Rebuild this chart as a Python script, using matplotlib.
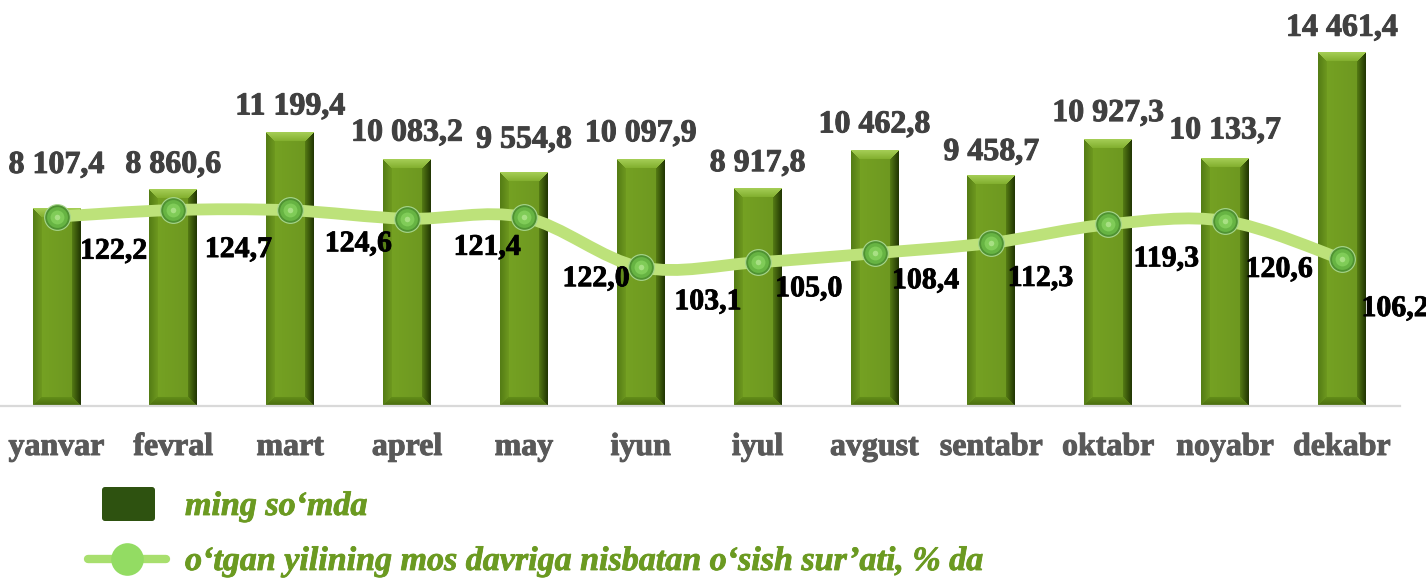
import numpy as np
import matplotlib
matplotlib.use("Agg")
import matplotlib.pyplot as plt
import matplotlib.patheffects as pe
from matplotlib.path import Path
from matplotlib.patches import PathPatch, FancyBboxPatch
from matplotlib.lines import Line2D
from matplotlib.colors import to_rgb

# ---------------- data ----------------
months = ["yanvar", "fevral", "mart", "aprel", "may", "iyun",
          "iyul", "avgust", "sentabr", "oktabr", "noyabr", "dekabr"]
amount = [8107.4, 8860.6, 11199.4, 10083.2, 9554.8, 10097.9,
          8917.8, 10462.8, 9458.7, 10927.3, 10133.7, 14461.4]
growth = [122.2, 124.7, 124.6, 121.4, 122.0, 103.1,
          105.0, 108.4, 112.3, 119.3, 120.6, 106.2]
legend_bar = "ming so‘mda"
legend_line = "o‘tgan yilining mos davriga nisbatan o‘sish sur’ati, % da"


def fmt(v):
    return f"{v:,.1f}".replace(",", " ").replace(".", ",")


def heavy(color, lw=0.7):
    return [pe.withStroke(linewidth=lw, foreground=color)]


# ---------------- layout / style ----------------
plt.rcParams["font.family"] = ["Liberation Serif", "DejaVu Serif"]
W, H = 1426, 579
fig = plt.figure(figsize=(W / 100, H / 100), dpi=100)
fig.patch.set_facecolor("white")

ax_left, ax_right = -1.9, 1400.4
ax_bottom, ax_top = 406.0, 15.3
ax = fig.add_axes([ax_left / W, (H - ax_bottom) / H,
                   (ax_right - ax_left) / W, (ax_bottom - ax_top) / H])
ax.set_xlim(-0.5, len(months) - 0.5)
ax.set_ylim(0, 16000)
ax.set_facecolor("none")
for s in ["top", "left", "right"]:
    ax.spines[s].set_visible(False)
ax.spines["bottom"].set_color("#d9d9d9")
ax.spines["bottom"].set_linewidth(1.6)
ax.set_yticks([])
ax.set_xticks(range(len(months)))
ax.set_xticklabels([])
ax.tick_params(axis="x", length=0)

x = np.arange(len(months))
bar_w = 0.41
bars = ax.bar(x, amount, width=bar_w, color="#729e22", zorder=2)


def bevel_img(w, h, b=9):
    face = np.array(to_rgb("#739f22"))
    top_c = np.array(to_rgb("#a4cd55"))
    top_in = np.array(to_rgb("#80ad2c"))
    left_c = np.array(to_rgb("#557d15"))
    left_in = np.array(to_rgb("#6f9a20"))
    right_c = np.array(to_rgb("#233804"))
    right_in = np.array(to_rgb("#587f15"))
    bot_c = np.array(to_rgb("#4a6c0f"))
    bot_in = np.array(to_rgb("#64901a"))
    rr, cc = np.mgrid[0:h, 0:w].astype(float)
    d = np.stack([rr, h - 1 - rr, cc, w - 1 - cc])  # top, bottom, left, right
    which = np.argmin(d, axis=0)
    dmin = np.min(d, axis=0)
    t = np.clip(dmin / b, 0, 1)[..., None]
    g = (cc / max(w - 1, 1))[..., None]
    img = face * (1.03 - 0.09 * g)
    pairs = [(top_c, top_in), (bot_c, bot_in), (left_c, left_in), (right_c, right_in)]
    inb = dmin < b
    for k, (c0, c1) in enumerate(pairs):
        m = inb & (which == k)
        col = c0 * (1 - t) + c1 * t
        img[m] = col[m]
    return np.clip(img, 0, 1)


for rect, val in zip(bars, amount):
    xl = rect.get_x()
    xr = xl + rect.get_width()
    p0 = ax.transData.transform((xl, 0))
    p1 = ax.transData.transform((xr, val))
    wp = max(int(round(p1[0] - p0[0])), 2)
    hp = max(int(round(p1[1] - p0[1])), 2)
    ax.imshow(bevel_img(wp, hp), extent=(xl, xr, 0, val), aspect="auto",
              interpolation="bilinear", zorder=2.1)
ax.set_xlim(-0.5, len(months) - 0.5)
ax.set_ylim(0, 16000)

# bar value labels (center of digits above bar top, in px)
bar_lab_off = [46, 28, 29, 30, 36, 29, 28, 29, 26, 29, 31, 28]
for i, v in enumerate(amount):
    ax.annotate(fmt(v), (i, v), xytext=(0, bar_lab_off[i] - 10.9),
                textcoords="offset pixels", ha="center", va="baseline",
                fontsize=23, fontweight="bold", color="#404040", zorder=5,
                path_effects=heavy("#404040"))

# month labels
for i, m in enumerate(months):
    ax.annotate(m, (i, 0), xycoords=("data", "axes fraction"),
                xytext=(0, -(455 - ax_bottom)), textcoords="offset pixels",
                ha="center", va="baseline", fontsize=23, fontweight="bold",
                color="#595959", annotation_clip=False,
                path_effects=heavy("#595959"))

# secondary axis for growth
ax2 = ax.twinx()
ax2.set_position(ax.get_position())
py0, pslope = 540.5, 2.65
ax2.set_ylim((py0 - ax_bottom) / pslope, (py0 - ax_top) / pslope)
ax2.set_yticks([])
for s in ax2.spines.values():
    s.set_visible(False)
ax2.set_facecolor("none")

# smooth (cubic Bezier, Catmull-Rom style) line through the points
pts = np.column_stack([x, growth]).astype(float)
n = len(pts)
verts = [tuple(pts[0])]
codes = [Path.MOVETO]
for i in range(n - 1):
    p_prev = pts[i - 1] if i > 0 else pts[i]
    p_next2 = pts[i + 2] if i + 2 < n else pts[i + 1]
    c1 = pts[i] + (pts[i + 1] - p_prev) / 6.0
    c2 = pts[i + 1] - (p_next2 - pts[i]) / 6.0
    verts += [tuple(c1), tuple(c2), tuple(pts[i + 1])]
    codes += [Path.CURVE4] * 3
ax2.add_patch(PathPatch(Path(verts, codes), fill=False, edgecolor="#bde27a",
                        lw=8.5, capstyle="round", joinstyle="round", zorder=3))
ax2.plot(x, growth, "o", ms=18.5, mfc="#4f9232", mec="#a9d68e", mew=0.8, zorder=4)
ax2.plot(x, growth, "o", ms=15, mfc="#67b443", mec="none", zorder=4.1)
ax2.plot(x, growth, "o", ms=10, mfc="#80cc58", mec="none", zorder=4.2)
ax2.plot(x, growth, "o", ms=4, mfc="#a8e084", mec="none", zorder=4.3)

# growth labels: (dx, dy) px offset of label center from marker (dy downward)
line_lab_off = [(57, 32), (65, 37), (68, 31), (80, 26), (72, 59), (67, 32),
                (51, 24), (51, 25), (49, 33), (58, 32), (54, 46), (53, 47)]
for i, v in enumerate(growth):
    dx, dy = line_lab_off[i]
    ax2.annotate(fmt(v), (i, v), xytext=(dx, -(dy + 10.0)),
                 textcoords="offset pixels", ha="center", va="baseline",
                 fontsize=21.5, fontweight="bold", color="black", zorder=6,
                 annotation_clip=False, path_effects=heavy("black", 0.6))

# ---------------- legend (pixel overlay) ----------------
lg = fig.add_axes([0, 0, 1, 1])
lg.set_xlim(0, W)
lg.set_ylim(H, 0)
lg.axis("off")
lg.patch.set_alpha(0)
lg.add_patch(FancyBboxPatch((102, 487), 53, 34,
                            boxstyle="round,pad=0,rounding_size=3",
                            fc="#2e5210", ec="none"))
lg.text(185, 515, legend_bar, fontsize=24.5, fontweight="bold",
        fontstyle="italic", color="#6b9a21", va="baseline", ha="left",
        path_effects=heavy("#6b9a21", 0.6))
lg.add_line(Line2D([88, 166], [559, 559], color="#a8df6e", lw=6.0,
                   solid_capstyle="round"))
lg.plot([127], [559], "o", ms=23.5, mfc="#93dc63", mec="none")
lg.text(185, 570, legend_line, fontsize=24.5, fontweight="bold",
        fontstyle="italic", color="#6b9a21", va="baseline", ha="left",
        path_effects=heavy("#6b9a21", 0.6))

fig.savefig("out.png", dpi=100, facecolor="white")
